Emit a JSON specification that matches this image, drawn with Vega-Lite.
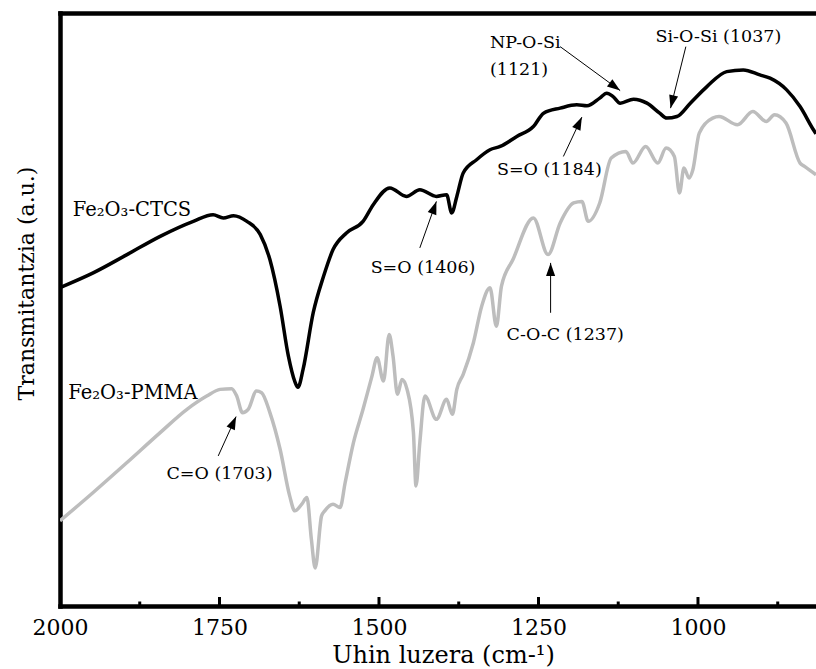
{
  "$schema": "https://vega.github.io/schema/vega-lite/v6.json",
  "width": 756,
  "height": 593,
  "autosize": "none",
  "padding": {"left": 60, "top": 13, "right": 0, "bottom": 63},
  "background": "white",
  "config": {"view": {"stroke": null}},
  "datasets": {
    "spectra": [
      {"s":"Fe2O3-CTCS","wn":2000,"t":319},{"s":"Fe2O3-CTCS","wn":1948,"t":333.7},{"s":"Fe2O3-CTCS","wn":1895,"t":352},{"s":"Fe2O3-CTCS","wn":1843,"t":370.3},{"s":"Fe2O3-CTCS","wn":1791,"t":385.3},{"s":"Fe2O3-CTCS","wn":1760,"t":392},{"s":"Fe2O3-CTCS","wn":1744,"t":388.7},{"s":"Fe2O3-CTCS","wn":1728,"t":391},{"s":"Fe2O3-CTCS","wn":1707,"t":385.3},{"s":"Fe2O3-CTCS","wn":1686,"t":372},{"s":"Fe2O3-CTCS","wn":1671,"t":347},{"s":"Fe2O3-CTCS","wn":1655,"t":300.3},{"s":"Fe2O3-CTCS","wn":1642,"t":250.3},{"s":"Fe2O3-CTCS","wn":1632,"t":225},{"s":"Fe2O3-CTCS","wn":1627,"t":219},{"s":"Fe2O3-CTCS","wn":1619,"t":237},{"s":"Fe2O3-CTCS","wn":1603,"t":294},{"s":"Fe2O3-CTCS","wn":1587,"t":330},{"s":"Fe2O3-CTCS","wn":1572,"t":357},{"s":"Fe2O3-CTCS","wn":1551,"t":373.7},{"s":"Fe2O3-CTCS","wn":1525,"t":385.3},{"s":"Fe2O3-CTCS","wn":1509,"t":402},{"s":"Fe2O3-CTCS","wn":1483,"t":418.7},{"s":"Fe2O3-CTCS","wn":1457,"t":410.3},{"s":"Fe2O3-CTCS","wn":1436,"t":417},{"s":"Fe2O3-CTCS","wn":1410,"t":410.3},{"s":"Fe2O3-CTCS","wn":1394,"t":412},{"s":"Fe2O3-CTCS","wn":1386,"t":393.7},{"s":"Fe2O3-CTCS","wn":1378,"t":410.3},{"s":"Fe2O3-CTCS","wn":1368,"t":433.7},{"s":"Fe2O3-CTCS","wn":1347,"t":447},{"s":"Fe2O3-CTCS","wn":1326,"t":457},{"s":"Fe2O3-CTCS","wn":1310,"t":460.3},{"s":"Fe2O3-CTCS","wn":1284,"t":470.3},{"s":"Fe2O3-CTCS","wn":1258,"t":480.3},{"s":"Fe2O3-CTCS","wn":1242,"t":493.7},{"s":"Fe2O3-CTCS","wn":1216,"t":498.7},{"s":"Fe2O3-CTCS","wn":1190,"t":502},{"s":"Fe2O3-CTCS","wn":1174,"t":501},{"s":"Fe2O3-CTCS","wn":1154,"t":508.7},{"s":"Fe2O3-CTCS","wn":1143,"t":513.7},{"s":"Fe2O3-CTCS","wn":1133,"t":510.3},{"s":"Fe2O3-CTCS","wn":1122,"t":503.7},{"s":"Fe2O3-CTCS","wn":1101,"t":507.7},{"s":"Fe2O3-CTCS","wn":1080,"t":503.7},{"s":"Fe2O3-CTCS","wn":1060,"t":493.7},{"s":"Fe2O3-CTCS","wn":1049,"t":488.7},{"s":"Fe2O3-CTCS","wn":1033,"t":490.3},{"s":"Fe2O3-CTCS","wn":1012,"t":503.7},{"s":"Fe2O3-CTCS","wn":986,"t":520.3},{"s":"Fe2O3-CTCS","wn":955,"t":535.3},{"s":"Fe2O3-CTCS","wn":929,"t":537},{"s":"Fe2O3-CTCS","wn":903,"t":532},{"s":"Fe2O3-CTCS","wn":887,"t":528.7},{"s":"Fe2O3-CTCS","wn":861,"t":517},{"s":"Fe2O3-CTCS","wn":840,"t":500.3},{"s":"Fe2O3-CTCS","wn":819,"t":477},{"s":"Fe2O3-CTCS","wn":815,"t":473},
      {"s":"Fe2O3-PMMA","wn":2000,"t":85.3},{"s":"Fe2O3-PMMA","wn":1948,"t":113.7},{"s":"Fe2O3-PMMA","wn":1895,"t":143.7},{"s":"Fe2O3-PMMA","wn":1843,"t":173.7},{"s":"Fe2O3-PMMA","wn":1801,"t":197},{"s":"Fe2O3-PMMA","wn":1770,"t":210.3},{"s":"Fe2O3-PMMA","wn":1749,"t":217},{"s":"Fe2O3-PMMA","wn":1731,"t":217.7},{"s":"Fe2O3-PMMA","wn":1723,"t":210.3},{"s":"Fe2O3-PMMA","wn":1714,"t":193.7},{"s":"Fe2O3-PMMA","wn":1705,"t":197},{"s":"Fe2O3-PMMA","wn":1692,"t":215.3},{"s":"Fe2O3-PMMA","wn":1684,"t":213.7},{"s":"Fe2O3-PMMA","wn":1671,"t":193.7},{"s":"Fe2O3-PMMA","wn":1655,"t":157},{"s":"Fe2O3-PMMA","wn":1640,"t":110.3},{"s":"Fe2O3-PMMA","wn":1632,"t":95.3},{"s":"Fe2O3-PMMA","wn":1621,"t":102},{"s":"Fe2O3-PMMA","wn":1613,"t":108.7},{"s":"Fe2O3-PMMA","wn":1606,"t":67},{"s":"Fe2O3-PMMA","wn":1600,"t":38},{"s":"Fe2O3-PMMA","wn":1590,"t":90.3},{"s":"Fe2O3-PMMA","wn":1585,"t":95.3},{"s":"Fe2O3-PMMA","wn":1572,"t":102},{"s":"Fe2O3-PMMA","wn":1561,"t":98.7},{"s":"Fe2O3-PMMA","wn":1553,"t":123.7},{"s":"Fe2O3-PMMA","wn":1540,"t":163.7},{"s":"Fe2O3-PMMA","wn":1525,"t":197},{"s":"Fe2O3-PMMA","wn":1511,"t":230.3},{"s":"Fe2O3-PMMA","wn":1503,"t":248.7},{"s":"Fe2O3-PMMA","wn":1493,"t":225.3},{"s":"Fe2O3-PMMA","wn":1484,"t":272},{"s":"Fe2O3-PMMA","wn":1478,"t":250.3},{"s":"Fe2O3-PMMA","wn":1471,"t":212},{"s":"Fe2O3-PMMA","wn":1464,"t":227},{"s":"Fe2O3-PMMA","wn":1456,"t":217},{"s":"Fe2O3-PMMA","wn":1446,"t":173.7},{"s":"Fe2O3-PMMA","wn":1442,"t":120.3},{"s":"Fe2O3-PMMA","wn":1436,"t":163.7},{"s":"Fe2O3-PMMA","wn":1428,"t":210.3},{"s":"Fe2O3-PMMA","wn":1410,"t":187},{"s":"Fe2O3-PMMA","wn":1394,"t":207},{"s":"Fe2O3-PMMA","wn":1385,"t":192},{"s":"Fe2O3-PMMA","wn":1378,"t":217},{"s":"Fe2O3-PMMA","wn":1368,"t":232},{"s":"Fe2O3-PMMA","wn":1352,"t":263.7},{"s":"Fe2O3-PMMA","wn":1339,"t":300.3},{"s":"Fe2O3-PMMA","wn":1326,"t":318.7},{"s":"Fe2O3-PMMA","wn":1316,"t":280.3},{"s":"Fe2O3-PMMA","wn":1308,"t":320.3},{"s":"Fe2O3-PMMA","wn":1290,"t":347},{"s":"Fe2O3-PMMA","wn":1258,"t":388.7},{"s":"Fe2O3-PMMA","wn":1235,"t":352},{"s":"Fe2O3-PMMA","wn":1216,"t":383.7},{"s":"Fe2O3-PMMA","wn":1195,"t":403.7},{"s":"Fe2O3-PMMA","wn":1182,"t":405.3},{"s":"Fe2O3-PMMA","wn":1172,"t":385.3},{"s":"Fe2O3-PMMA","wn":1154,"t":403.7},{"s":"Fe2O3-PMMA","wn":1136,"t":448.7},{"s":"Fe2O3-PMMA","wn":1113,"t":455.3},{"s":"Fe2O3-PMMA","wn":1102,"t":443.7},{"s":"Fe2O3-PMMA","wn":1082,"t":460.3},{"s":"Fe2O3-PMMA","wn":1063,"t":443.7},{"s":"Fe2O3-PMMA","wn":1050,"t":458.7},{"s":"Fe2O3-PMMA","wn":1037,"t":450.3},{"s":"Fe2O3-PMMA","wn":1029,"t":413.7},{"s":"Fe2O3-PMMA","wn":1022,"t":438.7},{"s":"Fe2O3-PMMA","wn":1014,"t":428.7},{"s":"Fe2O3-PMMA","wn":1008,"t":437},{"s":"Fe2O3-PMMA","wn":998,"t":473.7},{"s":"Fe2O3-PMMA","wn":977,"t":488.7},{"s":"Fe2O3-PMMA","wn":967,"t":490.3},{"s":"Fe2O3-PMMA","wn":938,"t":482},{"s":"Fe2O3-PMMA","wn":914,"t":495.3},{"s":"Fe2O3-PMMA","wn":893,"t":485.3},{"s":"Fe2O3-PMMA","wn":880,"t":492},{"s":"Fe2O3-PMMA","wn":862,"t":483.7},{"s":"Fe2O3-PMMA","wn":840,"t":443.7},{"s":"Fe2O3-PMMA","wn":833,"t":440.3},{"s":"Fe2O3-PMMA","wn":815,"t":432}
    ],
    "arrows": [
      {"peak":"C=O (1703)","x1":1752,"y1":150.3,"x2":1724,"y2":189.7},
      {"peak":"S=O (1406)","x1":1436,"y1":358.7,"x2":1410,"y2":405.3},
      {"peak":"C-O-C (1237)","x1":1231,"y1":293.7,"x2":1231,"y2":343.7},
      {"peak":"S=O (1184)","x1":1211,"y1":450.3,"x2":1182,"y2":489.7},
      {"peak":"NP-O-Si (1121)","x1":1216,"y1":560.3,"x2":1122,"y2":516.3},
      {"peak":"Si-O-Si (1037)","x1":1019,"y1":560.3,"x2":1043,"y2":498.7}
    ],
    "labels": [
      {"text":"C=O (1703)","x":1750,"y":132},
      {"text":"S=O (1406)","x":1431,"y":338.7},
      {"text":"C-O-C (1237)","x":1208,"y":271},
      {"text":"S=O (1184)","x":1233,"y":437},
      {"text":"Si-O-Si (1037)","x":968,"y":570.3}
    ],
    "leftlabels": [
      {"text":"NP-O-Si","x":1326,"y":563.7},
      {"text":"(1121)","x":1326,"y":537}
    ],
    "series": [
      {"text":"Fe₂O₃-CTCS","x":1980,"y":397},
      {"text":"Fe₂O₃-PMMA","x":1987,"y":213.7}
    ],
    "ticks": [
      {"wn":1750,"kind":"major"},{"wn":1500,"kind":"major"},{"wn":1250,"kind":"major"},{"wn":1000,"kind":"major"},
      {"wn":1875,"kind":"minor"},{"wn":1625,"kind":"minor"},{"wn":1375,"kind":"minor"},{"wn":1125,"kind":"minor"},{"wn":875,"kind":"minor"}
    ]
  },
  "resolve": {"axis": {"x": "independent"}},
  "layer": [
    {
      "data": {"name": "spectra"},
      "mark": {"type": "line", "strokeWidth": 3.5, "clip": true, "strokeJoin": "round", "interpolate": "monotone"},
      "encoding": {
        "x": {"field": "wn", "type": "quantitative",
              "scale": {"domain": [815, 2000], "reverse": true, "nice": false, "zero": false},
              "axis": {"values": [2000, 1750, 1500, 1250, 1000], "format": "d", "grid": false,
                       "domainColor": "black", "domainWidth": 4.5, "domainCap": "square",
                       "ticks": false,
                       "labelFont": "DejaVu Serif", "labelFontSize": 22, "labelColor": "black",
                       "labelPadding": 11, "labelFlush": false, "labelOverlap": false,
                       "title": "Uhin luzera (cm-¹)", "titleFont": "DejaVu Serif", "titleFontSize": 24,
                       "titleFontWeight": "normal", "titleColor": "black",
                       "titleX": 383, "titleY": 49, "titleBaseline": "middle"}},
        "y": {"field": "t", "type": "quantitative",
              "scale": {"domain": [0, 594], "nice": false, "zero": false},
              "axis": {"ticks": false, "labels": false, "grid": false,
                       "domainColor": "black", "domainWidth": 4.5, "domainCap": "square",
                       "title": "Transmitantzia (a.u.)", "titleFont": "DejaVu Serif", "titleFontSize": 22,
                       "titleFontWeight": "normal", "titleColor": "#000000",
                       "titleX": -34, "titleY": 270, "titleBaseline": "middle", "titleAngle": -90}},
        "color": {"field": "s", "type": "nominal",
                  "scale": {"domain": ["Fe2O3-CTCS", "Fe2O3-PMMA"], "range": ["#000000", "#bdbdbd"]},
                  "legend": null},
        "order": {"field": "s", "sort": "descending"}
      }
    },
    {
      "data": {"name": "ticks"},
      "transform": [{"filter": "datum.kind === 'major'"}],
      "mark": {"type": "rule", "color": "black", "strokeWidth": 3},
      "encoding": {
        "x": {"field": "wn", "type": "quantitative", "axis": null},
        "y": {"datum": 0},
        "y2": {"datum": 9}
      }
    },
    {
      "data": {"name": "ticks"},
      "transform": [{"filter": "datum.kind === 'minor'"}],
      "mark": {"type": "rule", "color": "black", "strokeWidth": 3},
      "encoding": {
        "x": {"field": "wn", "type": "quantitative", "axis": null},
        "y": {"datum": 0},
        "y2": {"datum": 4.5}
      }
    },
    {
      "data": {"name": "arrows"},
      "mark": {"type": "rule", "color": "black", "strokeWidth": 1},
      "encoding": {
        "x": {"field": "x1", "type": "quantitative", "axis": null},
        "y": {"field": "y1", "type": "quantitative"},
        "x2": {"field": "x2"},
        "y2": {"field": "y2"}
      }
    },
    {
      "data": {"name": "arrows"},
      "transform": [
        {"calculate": "atan2(-(datum.x2 - datum.x1) * 0.638, datum.y2 - datum.y1) * 180 / PI", "as": "ang"}
      ],
      "mark": {"type": "point", "filled": true, "color": "black", "opacity": 1,
               "shape": "M0,0 L0.7,2 L-0.7,2 Z", "size": 169},
      "encoding": {
        "x": {"field": "x2", "type": "quantitative",
              "axis": {"orient": "top", "labels": false, "ticks": false, "grid": false, "title": null,
                       "domainColor": "black", "domainWidth": 4.5, "domainCap": "square"}},
        "y": {"field": "y2", "type": "quantitative"},
        "angle": {"field": "ang", "type": "quantitative", "scale": null}
      }
    },
    {
      "data": {"name": "labels"},
      "mark": {"type": "text", "font": "DejaVu Serif", "fontSize": 17.5, "color": "black",
               "align": "center", "baseline": "middle"},
      "encoding": {
        "x": {"field": "x", "type": "quantitative", "axis": null},
        "y": {"field": "y", "type": "quantitative"},
        "text": {"field": "text"}
      }
    },
    {
      "data": {"name": "leftlabels"},
      "mark": {"type": "text", "font": "DejaVu Serif", "fontSize": 17.5, "color": "black",
               "align": "left", "baseline": "middle"},
      "encoding": {
        "x": {"field": "x", "type": "quantitative", "axis": null},
        "y": {"field": "y", "type": "quantitative"},
        "text": {"field": "text"}
      }
    },
    {
      "data": {"name": "series"},
      "mark": {"type": "text", "font": "DejaVu Serif", "fontSize": 19.5, "color": "black",
               "align": "left", "baseline": "middle"},
      "encoding": {
        "x": {"field": "x", "type": "quantitative", "axis": null},
        "y": {"field": "y", "type": "quantitative"},
        "text": {"field": "text"}
      }
    }
  ]
}
